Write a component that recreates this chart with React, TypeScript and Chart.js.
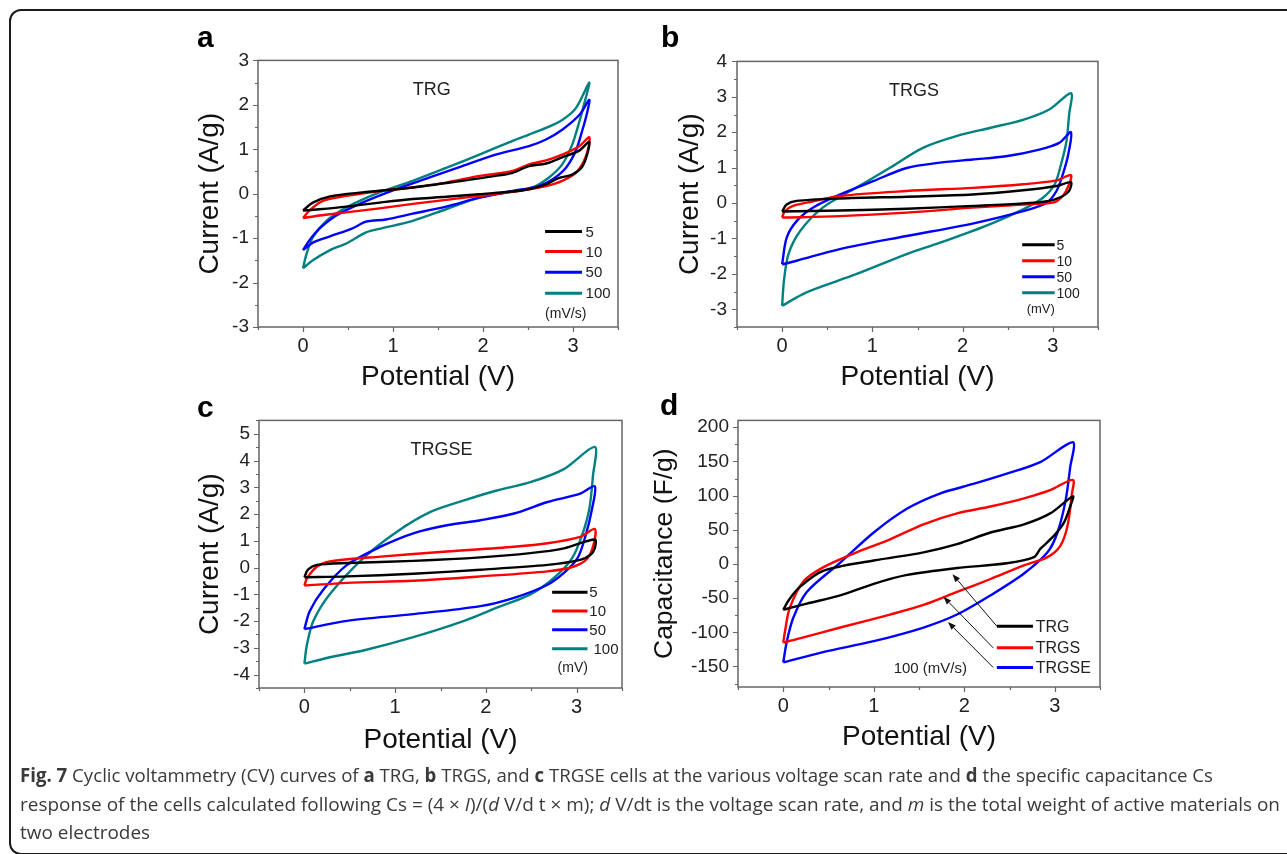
import React, { useEffect, useLayoutEffect, useRef } from 'react';
import { Chart, registerables } from 'chart.js';

Chart.register(...registerables);

// ---------------- DATA ----------------
const potentialTicks = [0, 1, 2, 3];
const potentialMinor = [-0.5, 0.5, 1.5, 2.5, 3.5];

const ticksA = [-3, -2, -1, 0, 1, 2, 3];
const minorA = [-2.5, -1.5, -0.5, 0.5, 1.5, 2.5];
const ticksB = [-3, -2, -1, 0, 1, 2, 3, 4];
const minorB = [-3.5, -2.5, -1.5, -0.5, 0.5, 1.5, 2.5, 3.5];
const ticksC = [-4, -3, -2, -1, 0, 1, 2, 3, 4, 5];
const minorC = [-4.5, -3.5, -2.5, -1.5, -0.5, 0.5, 1.5, 2.5, 3.5, 4.5, 5.5];
const ticksD = [-150, -100, -50, 0, 50, 100, 150, 200];
const minorD = [-175, -125, -75, -25, 25, 75, 125, 175];

const scanRates = ['5', '10', '50', '100'];
const cellNames = ['TRG', 'TRGS', 'TRGSE'];

// Panel a: TRG
const a5X = [0, 0.11, 0.3, 0.66, 1.22, 1.77, 2.14, 2.33, 2.51, 2.7, 2.88, 3.07, 3.18, 3.16, 3.1, 2.99, 2.84, 2.7, 2.51, 2.33, 1.96, 1.59, 1.22, 0.85, 0.48, 0.18, 0];
const a5Y = [-0.38, -0.2, -0.06, 0.03, 0.14, 0.29, 0.4, 0.47, 0.62, 0.68, 0.82, 0.97, 1.17, 0.9, 0.6, 0.43, 0.35, 0.21, 0.1, 0.05, -0.01, -0.07, -0.12, -0.2, -0.29, -0.35, -0.38];
const a10X = [0, 0.07, 0.22, 0.48, 0.85, 1.22, 1.59, 1.96, 2.33, 2.51, 2.7, 2.88, 3.07, 3.18, 3.17, 3.12, 3.03, 2.88, 2.7, 2.51, 2.33, 1.96, 1.59, 1.22, 0.85, 0.48, 0.18, 0];
const a10Y = [-0.55, -0.38, -0.16, -0.05, 0.06, 0.14, 0.25, 0.4, 0.51, 0.66, 0.75, 0.88, 1.07, 1.27, 1.03, 0.73, 0.47, 0.29, 0.17, 0.1, 0.04, -0.05, -0.14, -0.23, -0.33, -0.42, -0.49, -0.55];
const a50X = [0, 0.07, 0.18, 0.37, 0.66, 1.03, 1.4, 1.77, 2.14, 2.51, 2.7, 2.88, 3.07, 3.18, 3.16, 3.1, 3.03, 2.92, 2.77, 2.62, 2.33, 1.96, 1.59, 1.22, 0.92, 0.7, 0.55, 0.3, 0.11, 0];
const a50Y = [-1.27, -1.05, -0.79, -0.49, -0.2, 0.1, 0.36, 0.62, 0.88, 1.07, 1.22, 1.44, 1.77, 2.11, 1.85, 1.4, 0.96, 0.58, 0.32, 0.17, 0.06, -0.09, -0.29, -0.45, -0.58, -0.63, -0.78, -0.96, -1.1, -1.27];
const a100X = [0, 0.04, 0.11, 0.26, 0.48, 0.85, 1.22, 1.59, 1.96, 2.33, 2.51, 2.7, 2.88, 3.03, 3.18, 3.14, 3.07, 2.99, 2.88, 2.73, 2.55, 2.33, 1.96, 1.59, 1.22, 0.85, 0.7, 0.48, 0.3, 0.11, 0];
const a100Y = [-1.68, -1.35, -0.98, -0.61, -0.31, 0.03, 0.29, 0.58, 0.88, 1.19, 1.33, 1.48, 1.66, 1.92, 2.5, 2.14, 1.62, 1.1, 0.66, 0.36, 0.14, 0.05, -0.09, -0.35, -0.61, -0.79, -0.87, -1.12, -1.27, -1.5, -1.68];

// Panel b: TRGS
const b5X = [0, 0.05, 0.16, 0.64, 1.38, 2.11, 2.67, 3.04, 3.2, 3.18, 3.11, 2.96, 2.67, 2.11, 1.38, 0.64, 0];
const b5Y = [-0.24, -0.04, 0.06, 0.13, 0.18, 0.24, 0.36, 0.48, 0.59, 0.34, 0.2, 0.06, -0.01, -0.08, -0.16, -0.21, -0.24];
const b10X = [0, 0.03, 0.12, 0.27, 0.64, 1.38, 2.11, 2.67, 3.04, 3.2, 3.18, 3.11, 3.0, 2.67, 2.11, 1.38, 0.64, 0];
const b10Y = [-0.41, -0.23, -0.08, 0.01, 0.2, 0.34, 0.43, 0.53, 0.64, 0.79, 0.53, 0.2, 0.01, -0.04, -0.13, -0.27, -0.37, -0.41];
const b50X = [0, 0.05, 0.16, 0.34, 0.64, 1.01, 1.38, 1.75, 2.11, 2.48, 2.85, 3.07, 3.2, 3.17, 3.11, 3.04, 2.93, 2.67, 2.11, 1.38, 0.64, 0.16, 0];
const b50Y = [-1.73, -0.98, -0.51, -0.13, 0.24, 0.62, 0.99, 1.14, 1.23, 1.32, 1.51, 1.7, 2.0, 1.37, 0.81, 0.34, 0.01, -0.23, -0.58, -0.93, -1.3, -1.63, -1.73];
const b100X = [0, 0.02, 0.07, 0.2, 0.45, 0.82, 1.19, 1.56, 1.93, 2.3, 2.67, 2.96, 3.2, 3.18, 3.15, 3.09, 3.02, 2.89, 2.67, 2.3, 1.75, 1.38, 0.82, 0.27, 0];
const b100Y = [-2.9, -2.2, -1.44, -0.79, -0.13, 0.43, 0.99, 1.56, 1.89, 2.12, 2.35, 2.64, 3.1, 2.5, 1.74, 1.09, 0.53, 0.15, -0.18, -0.6, -1.12, -1.44, -2.01, -2.52, -2.9];

// Panel c: TRGSE
const c5X = [0, 0.04, 0.14, 0.47, 1.2, 1.94, 2.49, 2.86, 3.2, 3.2, 3.15, 3.04, 2.68, 1.94, 1.2, 0.47, 0];
const c5Y = [-0.36, -0.08, 0.1, 0.17, 0.25, 0.38, 0.54, 0.72, 1.05, 0.72, 0.47, 0.29, 0.1, -0.08, -0.23, -0.33, -0.36];
const c10X = [0, 0.03, 0.14, 0.28, 0.84, 1.57, 2.31, 2.68, 3.04, 3.2, 3.19, 3.12, 2.97, 2.68, 1.94, 1.2, 0.47, 0];
const c10Y = [-0.67, -0.39, 0.04, 0.23, 0.41, 0.6, 0.78, 0.91, 1.15, 1.44, 0.91, 0.35, 0.04, -0.14, -0.33, -0.49, -0.57, -0.67];
const c50X = [0, 0.06, 0.21, 0.47, 0.84, 1.2, 1.57, 1.94, 2.31, 2.68, 3.04, 3.2, 3.17, 3.1, 3.01, 2.86, 2.68, 2.31, 1.94, 1.2, 0.47, 0];
const c50Y = [-2.3, -1.62, -0.82, 0.1, 0.78, 1.28, 1.58, 1.77, 2.02, 2.45, 2.76, 3.04, 2.2, 1.21, 0.35, -0.2, -0.64, -1.13, -1.44, -1.74, -1.99, -2.3];
const c100X = [0, 0.03, 0.1, 0.28, 0.65, 1.02, 1.39, 1.76, 2.12, 2.49, 2.86, 3.2, 3.18, 3.14, 3.06, 2.95, 2.75, 2.49, 2.12, 1.76, 1.2, 0.65, 0.28, 0];
const c100Y = [-3.59, -2.85, -1.99, -1.0, 0.35, 1.34, 2.08, 2.51, 2.88, 3.19, 3.68, 4.51, 3.43, 2.2, 1.21, 0.35, -0.39, -1.0, -1.5, -1.99, -2.6, -3.1, -3.35, -3.59];

// Panel d: specific capacitance at 100 mV/s
const dTrgX = [0, 0.06, 0.18, 0.44, 1.0, 1.55, 1.92, 2.29, 2.66, 2.95, 3.2, 3.17, 3.1, 2.99, 2.84, 2.77, 2.47, 1.92, 1.37, 1.0, 0.63, 0.26, 0];
const dTrgY = [-67, -53, -34, -10, 5, 17, 29, 46, 58, 74, 99, 84, 60, 41, 22, 10, 1, -6, -16, -29, -46, -58, -67];
const dTrgsX = [0, 0.02, 0.07, 0.22, 0.44, 0.81, 1.18, 1.55, 1.92, 2.29, 2.66, 2.95, 3.2, 3.19, 3.14, 3.06, 2.92, 2.66, 2.29, 1.92, 1.55, 1.18, 0.63, 0.15, 0];
const dTrgsY = [-115, -98, -65, -26, -5, 17, 36, 58, 74, 84, 96, 108, 123, 103, 55, 26, 10, -2, -22, -41, -60, -74, -93, -110, -115];
const dTrgseX = [0, 0.04, 0.11, 0.26, 0.63, 1.0, 1.37, 1.73, 2.1, 2.47, 2.84, 3.2, 3.17, 3.12, 3.03, 2.92, 2.66, 2.29, 1.92, 1.55, 1.0, 0.44, 0];
const dTrgseY = [-144, -113, -79, -41, 2, 46, 81, 103, 117, 132, 149, 178, 141, 93, 46, 17, -14, -46, -74, -93, -113, -129, -144];

const colors = ['#000000', '#ff0000', '#0000ff', '#008080'];

// ---------------- HELPERS ----------------
const FONT = '"Liberation Sans", Arial, Helvetica, sans-serif';
const zip = (xs: number[], ys: number[]) => xs.map((x, i) => ({ x, y: ys[i] }));

type Cfg = any;

const panels: Cfg[] = [
  {
    key: 'a', letter: 'a', letterPos: { x: 197, y: 22 },
    box: { x: 180, y: 40, w: 450, h: 360 }, area: { l: 258, r: 618, t: 58, b: 327 },
    yMin: -3, yMax: 3, yTicks: ticksA, yMinor: minorA, yTitle: 'Current (A/g)', yTitleSize: 28,
    yTitleCenter: 210, xTitleCenter: 377, yTickPad: 9,
    series: [[a5X, a5Y], [a10X, a10Y], [a50X, a50Y], [a100X, a100Y]],
    label: { text: cellNames[0], x: 1.43, y: 2.34 },
    legend: { x1: 2.69, x2: 3.1, tx: 3.14, size: 15, rows: [-0.85, -1.3, -1.77, -2.24], names: scanRates, colors,
      note: { text: '(mV/s)', x: 2.69, y: -2.68 } },
  },
  {
    key: 'b', letter: 'b', letterPos: { x: 661, y: 22 },
    box: { x: 640, y: 40, w: 470, h: 360 }, area: { l: 737, r: 1098, t: 61, b: 327 },
    yMin: -3.5, yMax: 4, yTicks: ticksB, yMinor: minorB, yTitle: 'Current (A/g)', yTitleSize: 28,
    yTitleCenter: 690, xTitleCenter: 377, yTickPad: 10,
    series: [[b5X, b5Y], [b10X, b10Y], [b50X, b50Y], [b100X, b100Y]],
    label: { text: cellNames[1], x: 1.46, y: 3.16 },
    legend: { x1: 2.66, x2: 3.02, tx: 3.04, size: 14, rows: [-1.18, -1.63, -2.08, -2.53], names: scanRates, colors,
      note: { text: '(mV)', x: 2.71, y: -2.98 } },
  },
  {
    key: 'c', letter: 'c', letterPos: { x: 197, y: 392 },
    box: { x: 180, y: 400, w: 450, h: 365 }, area: { l: 259, r: 622, t: 418, b: 688 },
    yMin: -4.5, yMax: 5.5, yTicks: ticksC, yMinor: minorC, yTitle: 'Current (A/g)', yTitleSize: 28,
    yTitleCenter: 210, xTitleCenter: 740, yTickPad: 9,
    series: [[c5X, c5Y], [c10X, c10Y], [c50X, c50Y], [c100X, c100Y]],
    label: { text: cellNames[2], x: 1.51, y: 4.41 },
    legend: { x1: 2.73, x2: 3.12, tx: 3.14, size: 15, rows: [-0.92, -1.62, -2.32, -3.03], names: ['5', '10', '50', ' 100'], colors,
      note: { text: '(mV)', x: 2.79, y: -3.73 } },
  },
  {
    key: 'd', letter: 'd', letterPos: { x: 660, y: 390 },
    box: { x: 640, y: 400, w: 470, h: 365 }, area: { l: 738, r: 1100, t: 416, b: 687 },
    yMin: -180, yMax: 210, yTicks: ticksD, yMinor: minorD, yTitle: 'Capacitance (F/g)', yTitleSize: 26.5,
    yTitleCenter: 665, xTitleCenter: 737, yTickPad: 9,
    series: [[dTrgX, dTrgY], [dTrgsX, dTrgsY], [dTrgseX, dTrgseY]],
    label: null,
    legend: { x1: 2.36, x2: 2.76, tx: 2.79, size: 16, rows: [-91, -122.7, -151.4], names: cellNames, colors: colors.slice(0, 3),
      note: { text: '100 (mV/s)', x: 1.22, y: -151.4 } },
    arrows: [
      { x1: 2.36, y1: -91, x2: 1.87, y2: -15 },
      { x1: 2.32, y1: -122.7, x2: 1.77, y2: -48 },
      { x1: 2.32, y1: -151.4, x2: 1.82, y2: -85 },
    ],
  },
];

const decorPlugin = {
  id: 'decor',
  afterDraw(chart: any) {
    const cfg = chart.options.plugins.decor.cfg;
    const { ctx, chartArea: ca, scales } = chart;
    const xs = scales.x, ys = scales.y;
    const px = (v: number) => xs.getPixelForValue(v);
    const py = (v: number) => ys.getPixelForValue(v);
    ctx.save();
    // frame
    ctx.strokeStyle = '#666';
    ctx.lineWidth = 1.5;
    ctx.strokeRect(ca.left, ca.top, ca.right - ca.left, ca.bottom - ca.top);
    // ticks (outward)
    ctx.lineWidth = 1.2;
    ctx.beginPath();
    potentialTicks.forEach((v) => { const x = Math.round(px(v)) + 0.5; ctx.moveTo(x, ca.bottom); ctx.lineTo(x, ca.bottom + 5); });
    potentialMinor.forEach((v) => { const x = Math.round(px(v)) + 0.5; ctx.moveTo(x, ca.bottom); ctx.lineTo(x, ca.bottom + 3); });
    cfg.yTicks.forEach((v: number) => { const y = Math.round(py(v)) + 0.5; ctx.moveTo(ca.left, y); ctx.lineTo(ca.left - 5, y); });
    cfg.yMinor.forEach((v: number) => { const y = Math.round(py(v)) + 0.5; ctx.moveTo(ca.left, y); ctx.lineTo(ca.left - 3, y); });
    ctx.stroke();

    // panel label (e.g. TRG)
    if (cfg.label) {
      ctx.fillStyle = '#222';
      ctx.font = `18px ${FONT}`;
      ctx.textAlign = 'center';
      ctx.textBaseline = 'middle';
      ctx.fillText(cfg.label.text, px(cfg.label.x), py(cfg.label.y));
    }
    // arrows
    if (cfg.arrows) {
      ctx.strokeStyle = '#111';
      ctx.fillStyle = '#111';
      ctx.lineWidth = 1;
      cfg.arrows.forEach((a: any) => {
        const x1 = px(a.x1), y1 = py(a.y1), x2 = px(a.x2), y2 = py(a.y2);
        const ang = Math.atan2(y2 - y1, x2 - x1);
        const hl = 8, hw = 3;
        const bx = x2 - hl * Math.cos(ang), by = y2 - hl * Math.sin(ang);
        ctx.beginPath();
        ctx.moveTo(x1, y1);
        ctx.lineTo(bx, by);
        ctx.stroke();
        ctx.beginPath();
        ctx.moveTo(x2, y2);
        ctx.lineTo(bx + hw * Math.sin(ang), by - hw * Math.cos(ang));
        ctx.lineTo(bx - hw * Math.sin(ang), by + hw * Math.cos(ang));
        ctx.closePath();
        ctx.fill();
      });
    }
    // legend
    const lg = cfg.legend;
    if (lg) {
      ctx.font = `${lg.size}px ${FONT}`;
      ctx.textAlign = 'left';
      ctx.textBaseline = 'middle';
      lg.rows.forEach((ry: number, i: number) => {
        const y = py(ry);
        ctx.strokeStyle = lg.colors[i];
        ctx.lineWidth = 3;
        ctx.beginPath();
        ctx.moveTo(px(lg.x1), y);
        ctx.lineTo(px(lg.x2), y);
        ctx.stroke();
        ctx.fillStyle = '#222';
        ctx.fillText(lg.names[i], px(lg.tx), y + 1);
      });
      if (lg.note) {
        ctx.fillStyle = '#222';
        ctx.font = `${lg.size - 1}px ${FONT}`;
        ctx.fillText(lg.note.text, px(lg.note.x), py(lg.note.y) + 1);
      }
    }
    ctx.restore();
  },
};

function Panel({ cfg }: { cfg: Cfg }) {
  const ref = useRef<HTMLCanvasElement>(null);
  useEffect(() => {
    const { box, area } = cfg;
    const xTitleSize = 28;
    const xTitleOffset = box.y + box.h - cfg.xTitleCenter;
    const yTitleOffset = cfg.yTitleCenter - box.x;
    const chart = new Chart(ref.current as HTMLCanvasElement, {
      type: 'scatter',
      data: {
        datasets: cfg.series.map((s: number[][], i: number) => ({
          data: zip(s[0], s[1]),
          showLine: true,
          borderColor: colors[i],
          backgroundColor: colors[i],
          borderWidth: 2.4,
          pointRadius: 0,
          tension: 0.3,
          fill: false,
        })),
      },
      options: {
        responsive: false,
        animation: false,
        events: [],
        layout: { padding: { left: 0, top: area.t - box.y, right: box.x + box.w - area.r, bottom: 0 } },
        plugins: {
          legend: { display: false },
          tooltip: { enabled: false },
          decor: { cfg },
        } as any,
        scales: {
          x: {
            type: 'linear',
            position: 'bottom',
            min: -0.5,
            max: 3.5,
            afterBuildTicks: (s: any) => { s.ticks = potentialTicks.map((v) => ({ value: v })); },
            afterFit: (s: any) => { s.height = box.y + box.h - area.b; },
            grid: { display: false, drawTicks: false },
            border: { display: false },
            ticks: { padding: 7, autoSkip: false, maxRotation: 0, color: '#222', font: { family: FONT, size: 20 }, callback: (v: any) => String(v) },
            title: { display: true, text: 'Potential (V)', color: '#111', font: { family: FONT, size: xTitleSize }, padding: { top: 0, bottom: xTitleOffset - xTitleSize * 0.6 } },
          },
          y: {
            type: 'linear',
            position: 'left',
            min: cfg.yMin,
            max: cfg.yMax,
            afterBuildTicks: (s: any) => { s.ticks = cfg.yTicks.map((v: number) => ({ value: v })); },
            afterFit: (s: any) => { s.width = area.l - box.x; },
            grid: { display: false, drawTicks: false },
            border: { display: false },
            ticks: { padding: cfg.yTickPad, autoSkip: false, color: '#222', font: { family: FONT, size: 19 }, callback: (v: any) => String(v) },
            title: { display: true, text: cfg.yTitle, color: '#111', font: { family: FONT, size: cfg.yTitleSize }, padding: { top: yTitleOffset - cfg.yTitleSize * 0.6, bottom: 0 } },
          },
        },
      } as any,
      plugins: [decorPlugin],
    });
    return () => chart.destroy();
  }, [cfg]);
  const { box } = cfg;
  return (
    <canvas
      ref={ref}
      width={box.w}
      height={box.h}
      style={{ position: 'absolute', left: box.x, top: box.y, width: box.w, height: box.h }}
    />
  );
}

const captionTargets = [1193, 1260];

function Caption() {
  const r1 = useRef<HTMLSpanElement>(null);
  const r2 = useRef<HTMLSpanElement>(null);
  const r3 = useRef<HTMLSpanElement>(null);
  useLayoutEffect(() => {
    const fit = () => {
      const els = [r1.current, r2.current];
      let last = 1;
      els.forEach((el, i) => {
        if (!el) return;
        el.style.transform = 'none';
        const w = el.getBoundingClientRect().width;
        last = captionTargets[i] / w;
        el.style.transform = `scaleX(${last})`;
      });
      if (r3.current) r3.current.style.transform = `scaleX(${last})`;
    };
    fit();
    const f: any = (document as any).fonts;
    if (f && f.ready) f.ready.then(fit);
  }, []);
  const lineStyle: React.CSSProperties = { display: 'inline-block', whiteSpace: 'nowrap', transformOrigin: '0 0' };
  return (
    <div style={{ position: 'absolute', left: 20, top: 761, fontFamily: '"Open Sans", "Noto Sans", sans-serif', fontSize: 19, lineHeight: '28.5px', color: '#3a3a3a' }}>
      <div><span ref={r1} style={lineStyle}><b>Fig. 7</b> Cyclic voltammetry (CV) curves of <b>a</b> TRG, <b>b</b> TRGS, and <b>c</b> TRGSE cells at the various voltage scan rate and <b>d</b> the specific capacitance Cs</span></div>
      <div><span ref={r2} style={lineStyle}>response of the cells calculated following Cs = (4 × <i>I</i>)/(<i>d</i> V/d t × m); <i>d</i> V/dt is the voltage scan rate, and <i>m</i> is the total weight of active materials on</span></div>
      <div><span ref={r3} style={lineStyle}>two electrodes</span></div>
    </div>
  );
}

export default function App() {
  return (
    <div style={{ position: 'absolute', left: 0, top: 0, width: 1287, height: 854, overflow: 'hidden', background: '#fff' }}>
      <div style={{ position: 'absolute', left: 9, top: 9, width: 1300, height: 846, border: '2px solid #1c1c1c', borderRadius: 12, boxSizing: 'border-box' }} />
      {panels.map((p) => (
        <React.Fragment key={p.key}>
          <Panel cfg={p} />
          <div style={{ position: 'absolute', left: p.letterPos.x, top: p.letterPos.y, fontFamily: FONT, fontWeight: 'bold', fontSize: 30, lineHeight: '30px', color: '#000' }}>{p.letter}</div>
        </React.Fragment>
      ))}
      <Caption />
    </div>
  );
}
